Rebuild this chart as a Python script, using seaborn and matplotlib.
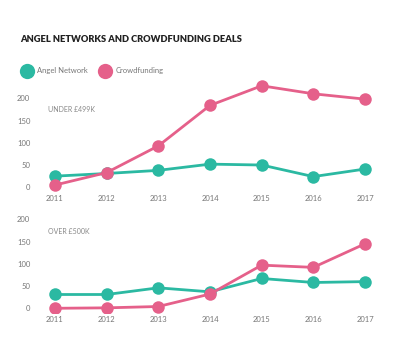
import matplotlib
matplotlib.use('Agg')
import matplotlib.pyplot as plt
from matplotlib.lines import Line2D
import numpy as np
import pandas as pd
import seaborn as sns

years = [2011, 2012, 2013, 2014, 2015, 2016, 2017]
series_names = ['Angel Network', 'Crowdfunding']
colors = ['#2bb9a2', '#e5608a']

# deals under £499k
under_angel = [25, 31, 38, 52, 50, 24, 41]
under_crowd = [5, 33, 93, 184, 228, 210, 198]

# deals over £500k
over_angel = [31, 31, 46, 37, 67, 58, 60]
over_crowd = [0, 1, 4, 32, 97, 92, 145]


def long_df(angel, crowd):
    return pd.DataFrame({
        'year': years * 2,
        'deals': angel + crowd,
        'type': [series_names[0]] * len(years) + [series_names[1]] * len(years),
    })


sns.set_style('white')
plt.rcParams['font.family'] = ['Lato', 'DejaVu Sans']

fig = plt.figure(figsize=(4.12, 3.61), dpi=100)
W, H = 412, 361

# axes placed in pixel terms
ax_top = fig.add_axes([40 / W, 1 - 192 / H, 340 / W, 112 / H])
ax_bot = fig.add_axes([40 / W, 1 - 313 / H, 340 / W, 103 / H])

palette = dict(zip(series_names, colors))
panels = [
    (ax_top, long_df(under_angel, under_crowd), (-10.6, 241)),
    (ax_bot, long_df(over_angel, over_crowd), (-10.6, 221)),
]

for ax, df, ylim in panels:
    sns.lineplot(data=df, x='year', y='deals', hue='type', palette=palette,
                 marker='o', markersize=9, markeredgewidth=0, linewidth=2,
                 legend=False, ax=ax, zorder=3)
    ax.set_xlim(2010.71, 2017.29)
    ax.set_ylim(*ylim)
    ax.set_xticks(years)
    ax.set_yticks([0, 50, 100, 150, 200])
    ax.tick_params(axis='both', length=0, labelsize=5.5, labelcolor='#777777')
    ax.tick_params(axis='y', pad=7)
    ax.tick_params(axis='x', pad=2)
    ax.set_xlabel('')
    ax.set_ylabel('')
    for s in ax.spines.values():
        s.set_visible(False)
    ax.grid(False)
    ax.set_facecolor('none')

fig.text(48 / W, 1 - 110 / H, 'UNDER £499K', fontsize=5, color='#888888',
         va='center', ha='left')
fig.text(48 / W, 1 - 232 / H, 'OVER £500K', fontsize=5, color='#888888',
         va='center', ha='left')

fig.text(20 / W, 1 - 40 / H, 'ANGEL NETWORKS AND CROWDFUNDING DEALS',
         fontsize=6.7, fontweight='heavy', color='#222222', va='center', ha='left')

handles = [Line2D([], [], marker='o', linestyle='', markersize=11,
                  markerfacecolor=c, markeredgewidth=0) for c in colors]
fig.legend(handles, series_names, loc='center left',
           bbox_to_anchor=(19 / W, 1 - 71 / H), ncol=2, frameon=False,
           fontsize=5.5, labelcolor='#777777', handletextpad=0.4,
           columnspacing=1.2, borderaxespad=0, borderpad=0)

fig.savefig('out.png', dpi=100)
